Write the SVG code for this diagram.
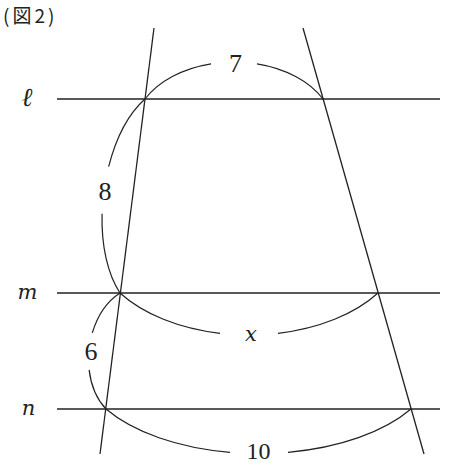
<svg xmlns="http://www.w3.org/2000/svg" width="462" height="465" viewBox="0 0 462 465">
<style>
.ln{stroke:#222;stroke-width:1.3;fill:none}
.arc{stroke:#222;stroke-width:1.2;fill:none}
.num{font-family:"Liberation Serif",serif;font-size:26px;fill:#222;text-anchor:middle}
.var{font-family:"DejaVu Serif",serif;font-style:italic;font-size:21px;fill:#222;text-anchor:middle}
.ttl{font-family:"Noto Sans CJK JP",sans-serif;font-size:19px;fill:#222;letter-spacing:3px}
</style>
<rect width="462" height="465" fill="#fff"/>
<text class="ttl" x="3" y="22.5">(図2)</text>
<g id="lines">
<line class="ln" x1="57" y1="99" x2="440" y2="99"/>
<line class="ln" x1="57" y1="293" x2="440" y2="293"/>
<line class="ln" x1="57" y1="409" x2="440" y2="409"/>
<line class="ln" x1="154" y1="28" x2="100" y2="454"/>
<line class="ln" x1="303" y1="28" x2="424" y2="454"/>
</g>
<g id="arcs">
<path class="arc" d="M145,99 A100,68 0 0 1 211,63.8 M257,63.8 A100,68 0 0 1 323,99"/>
<path class="arc" d="M145,99 A114.2,60 97.34 0 0 108.64,166.71 M102.07,213.85 A114.2,60 97.34 0 0 120,293"/>
<path class="arc" d="M120,293 A155.4,95 0 0 0 220,333.3 M278,333.3 A155.4,95 0 0 0 378,293"/>
<path class="arc" d="M120,293 A68.4,50 96.88 0 0 92.32,332.89 M89.12,369.87 A68.4,50 96.88 0 0 106,409"/>
<path class="arc" d="M106,409 A179,93.5 0 0 0 230,452.3 M288,452.3 A179,93.5 0 0 0 411,409"/>
</g>
<g id="labels">
<text class="var" x="27" y="106" style="font-size:26px">ℓ</text>
<text class="var" x="27.5" y="299">m</text>
<text class="var" x="28.5" y="415">n</text>
<text class="var" x="251" y="341">x</text>
<text class="num" x="235.5" y="72">7</text>
<text class="num" x="105" y="200">8</text>
<text class="num" x="91" y="360">6</text>
<text class="num" x="258.5" y="459" style="font-size:24px">10</text>
</g>
</svg>
